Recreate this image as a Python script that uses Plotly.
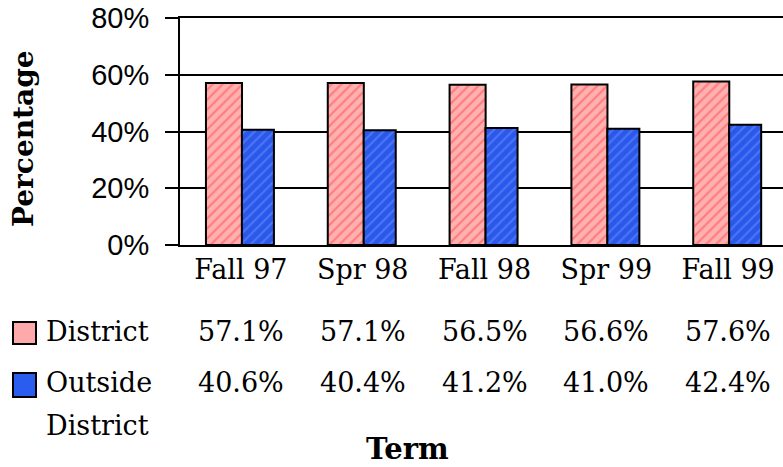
import plotly.graph_objects as go

terms = ["Fall 97", "Spr 98", "Fall 98", "Spr 99", "Fall 99"]
district = [57.1, 57.1, 56.5, 56.6, 57.6]
outside = [40.6, 40.4, 41.2, 41.0, 42.4]
series_names = ["District", "Outside District"]
y_ticks = [0, 20, 40, 60, 80]

W, H = 783, 467
L, R, T, B = 180, 0, 18, 222
PW, PH = W - L - R, H - T - B


def px(xp):
    return (xp - L) / PW


def py(yp):
    return (H - B - yp) / PH


SERIF = "DejaVu Serif"
SANS = "Liberation Sans"

fig = go.Figure()
fig.add_trace(go.Bar(
    x=terms, y=[v / 100 for v in district], name=series_names[0],
    offset=-0.287, width=0.296,
    marker=dict(color="#ff9c9c", line=dict(color="black", width=2),
                pattern=dict(shape="/", fgcolor="#ff2a2a", bgcolor="#ffb0b0",
                             fgopacity=0.4, size=7, solidity=0.3)),
))
fig.add_trace(go.Bar(
    x=terms, y=[v / 100 for v in outside], name=series_names[1],
    offset=0.008, width=0.263,
    marker=dict(color="#2b5cf0", line=dict(color="black", width=2),
                pattern=dict(shape="/", fgcolor="#6f93ff", bgcolor="#2a58ea",
                             fgopacity=0.5, size=7, solidity=0.3)),
))

annotations = []
row_y = [331, 383]
for vals, yp in zip([district, outside], row_y):
    for t, v in zip(terms, vals):
        annotations.append(dict(x=t, xref="x", y=py(yp), yref="paper",
                                text=f"{v:.1f}%", showarrow=False,
                                font=dict(family=SERIF, size=27, color="black"),
                                xanchor="center", yanchor="middle"))

annotations.append(dict(x=px(44), xref="paper", y=py(331), yref="paper",
                        text="District", showarrow=False, xanchor="left", yanchor="middle",
                        font=dict(family=SERIF, size=27, color="black")))
annotations.append(dict(x=px(44), xref="paper", y=py(383), yref="paper",
                        text="Outside", showarrow=False, xanchor="left", yanchor="middle",
                        font=dict(family=SERIF, size=27, color="black")))
annotations.append(dict(x=px(44), xref="paper", y=py(425), yref="paper",
                        text="District", showarrow=False, xanchor="left", yanchor="middle",
                        font=dict(family=SERIF, size=27, color="black")))
annotations.append(dict(x=px(407), xref="paper", y=py(449), yref="paper",
                        text="<b>Term</b>", showarrow=False, xanchor="center", yanchor="middle",
                        font=dict(family=SERIF, size=29, color="black")))
annotations.append(dict(x=px(23), xref="paper", y=py(139), yref="paper",
                        text="<b>Percentage</b>", showarrow=False, textangle=-90,
                        xanchor="center", yanchor="middle",
                        font=dict(family=SERIF, size=28, color="black")))

shapes = [
    dict(type="rect", xref="paper", yref="paper", x0=px(13), x1=px(36), y0=py(344), y1=py(322),
         fillcolor="#ffaaaa", line=dict(color="black", width=2)),
    dict(type="rect", xref="paper", yref="paper", x0=px(13), x1=px(36), y0=py(397), y1=py(373),
         fillcolor="#2b5cf0", line=dict(color="black", width=2)),
]

fig.update_layout(
    width=W, height=H, margin=dict(l=L, r=R, t=T, b=B),
    paper_bgcolor="white", plot_bgcolor="white",
    barmode="overlay", showlegend=False,
    annotations=annotations, shapes=shapes,
    xaxis=dict(type="category", range=[-0.5, 4.45], showgrid=False,
               showline=True, mirror=True, linecolor="black", linewidth=2,
               ticks="", tickfont=dict(family=SERIF, size=27, color="black"),
               ticklabelstandoff=0),
    yaxis=dict(range=[0, 0.8], tickvals=[v / 100 for v in y_ticks],
               ticktext=[f"{v}%" for v in y_ticks],
               showgrid=True, gridcolor="black", gridwidth=2,
               showline=True, linecolor="black", linewidth=2,
               ticks="outside", ticklen=13, tickwidth=2, tickcolor="black",
               tickfont=dict(family=SANS, size=29, color="black"),
               ticklabelstandoff=10, zeroline=False),
)

fig.write_html("out.html", config={"displayModeBar": False},
               post_script="document.body.style.margin='0';")
